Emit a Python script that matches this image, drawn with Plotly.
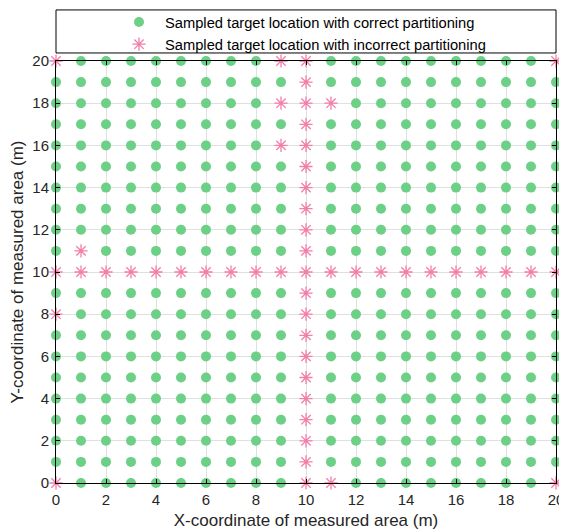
import plotly.graph_objects as go

# ---- data ----
grid_x = list(range(0, 21))
grid_y = list(range(0, 21))
bad_row_y = [10]          # whole row misclassified
bad_col_x = [10]          # whole column misclassified
extra_bad_x = [0, 20, 0, 20, 9, 9, 11, 9, 1, 0, 11]
extra_bad_y = [0, 0, 20, 20, 20, 18, 18, 16, 11, 8, 0]
x_ticks = [0, 2, 4, 6, 8, 10, 12, 14, 16, 18, 20]
y_ticks = [0, 2, 4, 6, 8, 10, 12, 14, 16, 18, 20]

bad = set(zip(extra_bad_x, extra_bad_y))
for yy in bad_row_y:
    for xx in grid_x:
        bad.add((xx, yy))
for xx in bad_col_x:
    for yy in grid_y:
        bad.add((xx, yy))

good_x, good_y, bad_x, bad_y = [], [], [], []
for yy in grid_y:
    for xx in grid_x:
        if (xx, yy) in bad:
            bad_x.append(xx); bad_y.append(yy)
        else:
            good_x.append(xx); good_y.append(yy)

GREEN = "rgb(108,208,134)"
PINK = "rgb(242,126,170)"
FONT = "Liberation Sans, Arial, Helvetica, sans-serif"

fig = go.Figure()
fig.add_trace(go.Scatter(
    x=good_x, y=good_y, mode="markers",
    name="Sampled target location with correct partitioning",
    marker=dict(symbol="circle", size=10, color=GREEN, line=dict(width=0)),
    cliponaxis=False,
))
fig.add_trace(go.Scatter(
    x=bad_x, y=bad_y, mode="markers",
    name="Sampled target location with incorrect partitioning",
    marker=dict(symbol="asterisk-open", size=11, color=PINK, line=dict(width=1.3, color=PINK)),
    cliponaxis=False,
))

axis_common = dict(
    range=[0, 20], showgrid=True, gridcolor="rgb(224,224,224)", gridwidth=1,
    zeroline=False, showline=True, linecolor="black", linewidth=1, mirror="ticks",
    ticks="inside", ticklen=4, tickcolor="black", tickwidth=1,
    tickfont=dict(family=FONT, size=15, color="rgb(38,38,38)"),
    ticklabelstandoff=3,
    automargin=False,
)

fig.update_xaxes(**axis_common)
fig.update_xaxes(tickvals=x_ticks,
                 title=dict(text="X-coordinate of measured area (m)", standoff=7,
                            font=dict(family=FONT, size=17, color="rgb(38,38,38)")))
fig.update_yaxes(**axis_common)
fig.update_yaxes(tickvals=y_ticks,
                 title=dict(text="Y-coordinate of measured area (m)", standoff=9,
                            font=dict(family=FONT, size=17, color="rgb(38,38,38)")))

# legend box drawn as shape spanning the plot width
fig.add_shape(type="rect", xref="paper", yref="paper",
              x0=0, x1=1, y0=1.019, y1=1.121,
              line=dict(color="black", width=1), fillcolor="white", layer="below")

fig.update_layout(
    width=559, height=524,
    margin=dict(l=48, r=11, t=53, b=49, autoexpand=False),
    plot_bgcolor="white", paper_bgcolor="white",
    font=dict(family=FONT, size=14, color="black"),
    legend=dict(x=0.114, y=1.0, xanchor="left", yanchor="bottom",
                bgcolor="rgba(0,0,0,0)", borderwidth=0,
                font=dict(family=FONT, size=14.7, color="black"),
                tracegroupgap=0, itemwidth=42),
    showlegend=True,
)

fig.write_html("out.html")
